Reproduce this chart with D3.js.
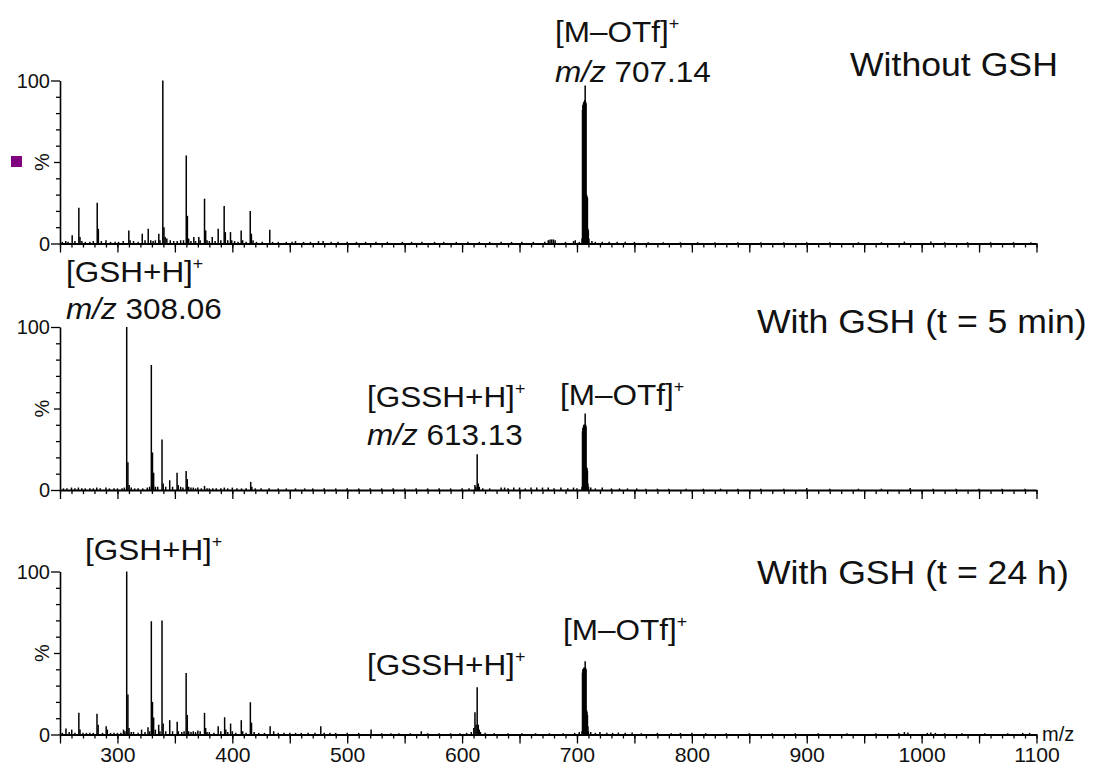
<!DOCTYPE html>
<html>
<head>
<meta charset="utf-8">
<script src="https://cdn.jsdelivr.net/npm/d3@7"></script>
<style>
  body { margin: 0; background: #fff; }
  svg { display: block; }
  text { font-family: "Liberation Sans", Arial, sans-serif; fill: #111; }
</style>
</head>
<body>
<svg id="chart" width="1094" height="767"></svg>
<script>
// ---- data: ESI-MS spectra, [m/z, relative intensity %] ----
const mzTickLabels = [300, 400, 500, 600, 700, 800, 900, 1000, 1100];
const yTickLabels = ["0", "%", "100"];
const panelTitles = ["Without GSH", "With GSH (t = 5 min)", "With GSH (t = 24 h)"];

const peaksNoGSH = [
  [252,1],[255,1.5],[257,1],[260.6,5],[263,1.5],[266.4,22],[267.4,4],[269,1.5],[272,1],[276,1],
  [279,1.5],[282.4,25],[283.4,9],[286,1.5],[290,2],[294,1],[298,1],[301,1],[305,1.5],[309.9,8],
  [311,2],[314,1.5],[318,1],[321.6,6],[324,2],[326.8,9],[329,2],[331,1.5],[333,2],[336,6],
  [337,2],[339.5,100],[340.5,10],[341.5,4],[343,3],[346,2],[349,1.5],[352,1.5],[355,2],[357.5,2],
  [359.9,54],[360.9,17],[362,3],[364,1.5],[366.5,4],[368,1.5],[370.8,4],[372,2],[375.8,27.5],[376.8,8],
  [378,2],[380,1.5],[382.5,4],[385,1.5],[387.7,9],[390,2],[392.9,23],[393.9,7],[396,2],[398.4,7],
  [399.5,2],[402,1.5],[405,1],[407.7,8],[409,2],[412,1],[415.6,20],[416.6,6],[418,2],[421,1],
  [426,1],[432.6,8.5],[435,1],[440,1],[447,1],[452,1],[455,1.5],[462,1],[468,1],[475,1.5],
  [479,1.5],[486,1],[492,1],[500,1],[508,1],[516,1],[525,1],[535,1],[548,1],[556,1],
  [565,1],[576,1],[584,1],[595,1],[605,1],[615,1],[624,1],[634,1],[643,1],[652,1],
  [662,1],[672,1],[675,2],[676.5,2.5],[678,2.5],[679.5,2.5],[681,2],[690,1],[697,1.5],[698.5,2],
  [702,1],[704.4,3],[704.8,82],[705.2,85],[705.6,86],[706.0,87],[706.4,87],[706.8,88],[707.14,97],
  [707.5,87],[707.9,86],[708.3,30],[708.7,29],[709.1,28],[709.5,9],[709.9,8],[710.4,3],[713,1.5],[716,1],
  [722,1],[728,1],[735,1],[742,1],[750,1],[762,0.8],
  [775,0.8],[790,0.8],[805,0.8],[820,0.8],[840,0.8],[860,0.8],[880,0.8],[900,0.8],[920,0.8],[945,0.8],
  [965,0.8],[985,1.2],[1008,1.2],[1020,0.8],[1040,0.8],[1060,0.8],[1080,0.8],[1095,0.8]
];

const peaks5min = [
  [253,1],[256,1],[260,1.5],[263,1],[266,1.5],[269,1],[272,1],[276,1],[279,1],[282,1.5],
  [285,1],[290,1.5],[293,1],[297,1],[300,1],[304,1],[306,1.5],[308.06,100],[309.1,17],[310.2,3],
  [312,1.5],[315,1],[318,1],[322,1],[326,1.5],[328,2],[329.5,76.7],[330.5,23],[331.5,10.6],[333,2],
  [335,2],[338.8,31],[339.8,4],[342,2],[345.5,6],[348,2],[351.9,10.6],[352.9,3],[355,2],[357,1.5],
  [359.8,11.7],[360.8,6.7],[362,2],[364,1.5],[366,1.5],[368,1],[370,1.5],[373,1],[375.8,2.5],[378,1],
  [380,1],[383,1],[386,1],[390,1],[393,1.5],[396,1],[400,1.5],[404,1],[408,1],[412,1],
  [416,5],[417,2],[420,1],[425,1],[432,1],[440,1],[447,1],[455,1],[463,1],[470,1],
  [480,1],[490,1],[500,1],[510,1],[520,1],[530,1],[540,1],[550,1],[560,1],[570,1],
  [580,1],[590,1],[600,1],[606,1],[611.2,3],[612,2],[613.13,22],[614.1,4],[615,2],[618,1],
  [624,1],[634,1.5],[637,1.5],[640,1],[645,1.5],[650,1.5],[655,1],[660,1.5],[665,1.5],[670,1.5],
  [675,1.5],[680,1],[686,1.5],[692,1],[697,1.5],[700,1],[704.4,2],[704.8,36],[705.2,38],[705.6,39],
  [706.0,40],[706.4,40],[706.8,40],[707.14,47],[707.5,40],[707.9,39],[708.3,14],[708.7,13.5],[709.1,12],[709.5,4],
  [710,2],[712,1.5],[716,1],[722,1.5],[730,1],
  [737,1],[744,1],[752,1],[760,0.8],[770,0.8],[780,0.8],[795,0.8],[810,0.8],[825,0.8],[840,0.8],
  [860,0.8],[880,0.8],[900,1.2],[920,0.8],[945,0.8],[965,0.8],[990,1.2],[1010,0.8],[1030,0.8],[1050,0.8],
  [1070,0.8],[1090,0.8]
];

const peaks24h = [
  [252,1],[255.2,3.7],[258,1.5],[260.2,3],[263,1],[266.4,13.3],[267.4,3],[270,1],[273,1],[276,1],
  [279,1],[282.2,12.8],[283.2,6],[287,1],[290.2,5],[291.2,3],[294,1],[297,1],[300,1],[303,1],
  [305.3,3],[306.5,2],[308.06,100],[309.1,24.5],[310.1,4],[312,1.5],[314,1.5],[318,1],[321,3],[324,1.5],
  [326.6,4.5],[328,2],[329.5,69.5],[330.5,20],[331.5,10.4],[333,3],[335.9,6],[337,2],[338.8,70],[339.8,6.7],
  [342,2],[345.5,8.8],[348,2],[352,7.8],[353,2],[356,1.5],[358,2],[359.8,37.8],[360.8,12],[362,2],
  [364,1.5],[366,2],[368,1.5],[370,2.5],[372,2],[375.8,13.3],[376.8,4],[378,1.5],[380,1.5],[384,1],
  [387.7,5],[390,2],[393.3,10.6],[394.3,3],[396,1.5],[398.5,6.7],[400,2],[403,1],[407.8,8.8],[409,2],
  [412,1],[415.7,19.8],[416.7,7.3],[419,1.5],[423,1],[428,1],[432.9,5],[436,2],[440,1],[445,1],
  [450,1],[455,1],[460,1],[466,1],[472,1],[477,5],[480,1],[485,1],[490,1],[500,1],
  [510,1],[520.8,3],[530,0.8],[538,0.8],[545,0.8],[555,0.8],[564.5,2],[570,0.8],[580,0.8],[590,0.8],
  [598,0.8],[604,1],[608,1.5],[610.2,4],[611.2,13.7],[612.2,6],[613.13,29],[614.1,6],[615,3],[616,1.5],
  [620,1],[628,0.8],[640,0.8],[652,0.8],[664,0.8],[676,0.8],[688,0.8],[698,1],[702,1.5],[704.4,2],
  [704.8,38],[705.2,40],[705.6,40],[706.0,41],[706.4,41],[706.8,41],[707.14,45],[707.5,41],[707.9,40],[708.3,15],
  [708.7,14],[709.1,12],[709.5,5],[710,2],[712,1.5],
  [716,1],[720,1.5],[726,1],[731,1],[736,1.2],[742,1],[748,1.2],[756,0.8],[770,1],[782,0.8],
  [790,1],[800,1],[812,0.8],[830,0.8],[850,0.8],[870,0.8],[890,0.8],[910,0.8],[935,0.8],[960,0.8],
  [980,1],[985,1.5],[988,1.2],[1005,1],[1008,1.2],[1012,1],[1020,0.8],[1035,0.8],[1055,0.8],[1075,0.8],
  [1088,1],[1094,1]
];

const spectra = [peaksNoGSH, peaks5min, peaks24h];

// ---- layout ----
const svg = d3.select("#chart");
const plotLeft = 60, plotRight = 1036.5, panelHeight = 163;
const panelBottoms = [243.5, 490, 734.5];

const x = d3.scaleLinear().domain([250, 1100]).range([plotLeft, plotRight]);
const minorTicks = d3.range(250, 1101, 10);
const majorTicks = d3.range(250, 1101, 50);

function label(g, px, py, parts, size, sx) {
  const t = g.append("text")
    .attr("transform", `translate(${px},${py}) scale(${sx},1)`)
    .style("font-size", size + "px");
  parts.forEach(p => {
    const s = t.append("tspan").text(p.t);
    if (p.italic) s.style("font-style", "italic");
    if (p.sup) s.style("font-size", Math.round(size * 0.55) + "px").attr("dy", -size * 0.42);
  });
  return t;
}

const ionMOTf = [{t: "[M\u2013OTf]"}, {t: "+", sup: true}];
const ionGSH  = [{t: "[GSH+H]"}, {t: "+", sup: true}];
const ionGSSH = [{t: "[GSSH+H]"}, {t: "+", sup: true}];

spectra.forEach((peaks, i) => {
  const bottom = panelBottoms[i];
  const y = d3.scaleLinear().domain([0, 100]).range([bottom, bottom - panelHeight]);
  const g = svg.append("g");

  // x axis: minor ticks every 10, major every 50
  const xMinor = g.append("g").attr("transform", `translate(0,${bottom})`)
    .call(d3.axisBottom(x).tickValues(minorTicks).tickSize(4).tickSizeOuter(0).tickFormat(""));
  xMinor.select(".domain").attr("stroke-width", 2);
  xMinor.selectAll(".tick line").attr("stroke-width", 1.3);

  const xMajor = g.append("g").attr("transform", `translate(0,${bottom})`)
    .call(d3.axisBottom(x).tickValues(majorTicks).tickSize(9).tickSizeOuter(0)
      .tickFormat(d => (i === 2 && mzTickLabels.includes(d)) ? d : ""));
  xMajor.select(".domain").remove();
  xMajor.selectAll(".tick line").attr("stroke-width", 1.3);
  xMajor.selectAll(".tick text")
    .attr("y", 0)
    .attr("dy", 0)
    .attr("transform", "translate(0,27.5) scale(1.06,1)")
    .style("font-size", "20px")
    .attr("fill", "#111");

  // y axis
  const yAx = g.append("g").attr("transform", `translate(${plotLeft},0)`)
    .call(d3.axisLeft(y).tickValues(d3.range(0, 101, 10)).tickSize(4).tickSizeOuter(0).tickFormat(""));
  yAx.select(".domain").attr("stroke-width", 1.6);
  yAx.selectAll(".tick line")
    .attr("stroke-width", 1.3)
    .attr("x2", d => (d === 0 || d === 100) ? -9 : (d === 50 ? -6 : -4));

  g.append("text").attr("x", 50).attr("y", y(0) + 7)
    .attr("text-anchor", "end").style("font-size", "20px").text(yTickLabels[0]);
  g.append("text").attr("x", 50).attr("y", y(100) + 7)
    .attr("text-anchor", "end").style("font-size", "20px").text(yTickLabels[2]);
  g.append("text")
    .attr("transform", `translate(49,${y(50)}) rotate(-90)`)
    .attr("text-anchor", "middle").style("font-size", "20px").text(yTickLabels[1]);

  // spectrum sticks
  g.append("g").selectAll("line").data(peaks).join("line")
    .attr("x1", d => x(d[0])).attr("x2", d => x(d[0]))
    .attr("y1", y(0)).attr("y2", d => y(d[1]))
    .attr("stroke", "#000").attr("stroke-width", 1.5);

  // panel title
  g.append("text")
    .attr("transform", `translate(${[850, 757, 757][i]},${[76, 333, 584][i]}) scale(1.08,1)`)
    .style("font-size", "33px").text(panelTitles[i]);
});

// marker square beside the first panel
svg.append("rect").attr("x", 11).attr("y", 156).attr("width", 11).attr("height", 11).attr("fill", "#800080");

// ion annotations
label(svg, 555, 42, ionMOTf, 30, 1.05);
label(svg, 555, 82, [{t: "m/z", italic: true}, {t: " 707.14"}], 30, 1.05);

label(svg, 66, 282, ionGSH, 30, 1.05);
label(svg, 66, 319, [{t: "m/z", italic: true}, {t: " 308.06"}], 30, 1.05);
label(svg, 367, 407, ionGSSH, 30, 1.05);
label(svg, 367, 445, [{t: "m/z", italic: true}, {t: " 613.13"}], 30, 1.05);
label(svg, 560, 405, ionMOTf, 30, 1.05);

label(svg, 85, 560, ionGSH, 30, 1.05);
label(svg, 367, 675, ionGSSH, 30, 1.05);
label(svg, 563, 640, ionMOTf, 30, 1.05);

// axis unit
svg.append("text").attr("x", 1042).attr("y", 741).style("font-size", "20px").text("m/z");
</script>
</body>
</html>
